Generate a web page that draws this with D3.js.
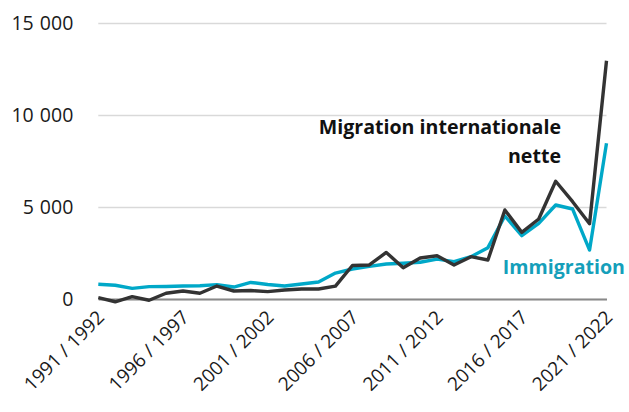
<!DOCTYPE html>
<html>
<head>
<meta charset="utf-8">
<script src="https://cdn.jsdelivr.net/npm/d3@7"></script>
<style>
  body { margin: 0; background: #fff; }
  svg { font-family: "Open Sans", sans-serif; }
</style>
</head>
<body>
<svg id="graph" width="629" height="412"></svg>
<script>
const years = []
for (let y = 1991; y <= 2021; y++) years.push(y + " / " + (y + 1))

// solde migratoire international net
const net_migration = [70, -150, 125, -70, 310, 435, 310, 705, 435, 460,
  400, 490, 545, 545, 700, 1820, 1850, 2530, 1700, 2230,
  2350, 1850, 2300, 2120, 4840, 3620, 4350, 6400, 5290, 4090, 12950]

// immigration
const immigration = [800, 745, 580, 670, 680, 705, 720, 780, 650, 900,
  790, 705, 815, 925, 1410, 1630, 1770, 1900, 1940, 1995,
  2170, 2030, 2300, 2790, 4510, 3440, 4110, 5110, 4890, 2660, 8460]

const y_ticks = [0, 5000, 10000, 15000]
const x_ticks = years.filter((d, i) => i % 5 == 0)

const color_net = "#333333"
const color_imm = "#00a8c8"

const marginLeft = 98.3
const marginRight = 22.5
const top_y = 23
const bottom_y = 299
const width = 629

const svg = d3.select("#graph")

const x = d3.scalePoint().domain(years).range([marginLeft, width - marginRight])
const y = d3.scaleLinear().domain([0, 15000]).range([bottom_y, top_y])

const fr = d3.formatLocale({decimal: ",", thousands: " ", grouping: [3], currency: ["", ""]})
const fmt = fr.format(",")

// gridlines + y labels
const yAxis = svg.append("g")
  .attr("transform", `translate(${marginLeft},0)`)
  .call(d3.axisLeft(y).tickValues(y_ticks).tickFormat(fmt)
    .tickSize(-(width - marginRight - marginLeft)).tickPadding(25))
yAxis.select(".domain").remove()
yAxis.selectAll(".tick line")
  .attr("stroke", "#d9d9d9")
  .attr("stroke-width", 1.3)
yAxis.selectAll(".tick text")
  .attr("font-size", 19.5)
  .attr("word-spacing", 1)
  .attr("fill", "#1a1a1a")
  .attr("font-family", "Open Sans, sans-serif")

// x axis
const xAxis = svg.append("g")
  .attr("transform", `translate(0,${bottom_y})`)
  .call(d3.axisBottom(x).tickValues(x_ticks).tickSize(0))
xAxis.select(".domain")
  .attr("stroke", "#898989")
  .attr("stroke-width", 2)
xAxis.selectAll(".tick text")
  .attr("font-size", 19)
  .attr("fill", "#1a1a1a")
  .attr("font-family", "Open Sans, sans-serif")
  .attr("text-anchor", "end")
  .attr("y", 0)
  .attr("dy", "0.72em")
  .attr("transform", "translate(-3,10) rotate(-45)")

const line = d3.line()
  .x((d, i) => x(years[i]))
  .y(d => y(d))

svg.append("path")
  .datum(immigration)
  .attr("fill", "none")
  .attr("stroke", color_imm)
  .attr("stroke-width", 3.4)
  .attr("stroke-linejoin", "round")
  .attr("d", line)

svg.append("path")
  .datum(net_migration)
  .attr("fill", "none")
  .attr("stroke", color_net)
  .attr("stroke-width", 3.4)
  .attr("stroke-linejoin", "round")
  .attr("d", line)

// labels
svg.append("text")
  .attr("x", 561).attr("y", 134)
  .attr("text-anchor", "end")
  .attr("font-size", 19.6).attr("font-weight", "bold")
  .attr("fill", "#111")
  .text("Migration internationale")

svg.append("text")
  .attr("x", 561).attr("y", 163)
  .attr("text-anchor", "end")
  .attr("font-size", 19.6).attr("font-weight", "bold")
  .attr("fill", "#111")
  .text("nette")

svg.append("text")
  .attr("x", 625).attr("y", 274)
  .attr("text-anchor", "end")
  .attr("font-size", 19.6).attr("font-weight", "bold")
  .attr("fill", "#159fba")
  .text("Immigration")
</script>
</body>
</html>
